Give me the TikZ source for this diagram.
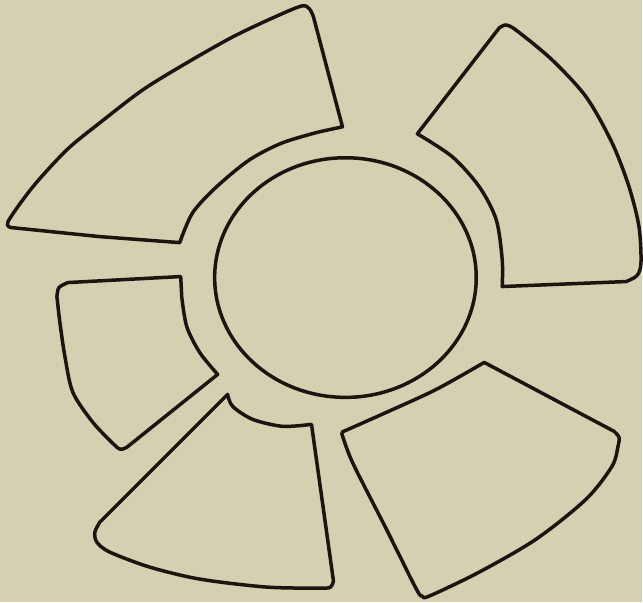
\documentclass[tikz,border=0pt]{standalone}
\definecolor{paper}{RGB}{213,208,178}
\definecolor{ink}{RGB}{28,20,14}
\begin{document}
\begin{tikzpicture}[x=1pt, y=-1pt,
  vane/.style={ink, line width=3.5pt, line join=round}]
  % Paper background fixes the page size.
  \fill[paper] (0,0) rectangle (643,603);
  % Central hub.
  \draw[vane] (346,278) ellipse (131pt and 120pt);
  % Upper left vane.
  \draw[vane] plot[smooth] coordinates {(12,228) (8,222) (33,187) (67,150) (100,123) (143,90) (187,63) (233,37) (273,18) (302,6) (310,9) (314,17)}
    -- (343,127)
    -- plot[smooth] coordinates {(320,132) (283,143) (250,160) (217,187) (193,213) (180,243)}
    -- (100,237) -- cycle;
  % Upper right vane.
  \draw[vane] plot[smooth] coordinates {(500,28) (507,25) (518,31) (553,60) (587,97) (613,143) (630,187) (640,227) (642,263) (638,276) (627,282)}
    -- plot[smooth] coordinates {(503,287) (503,260) (497,220) (480,187) (453,157) (418,134)}
    -- cycle;
  % Small left vane.
  \draw[vane] plot[smooth] coordinates {(57,297) (59,288) (68,283)}
    -- (181,277)
    -- plot[smooth] coordinates {(182,297) (187,327) (200,353) (218,375)}
    -- plot[smooth] coordinates {(127,448) (121,450) (115,446) (93,423) (73,393) (65,357) (60,323) (57,297)};
  % Lower left vane.
  \draw[vane] plot[smooth] coordinates {(228,395) (233,407) (253,420) (283,427) (312,425)}
    -- plot[smooth] coordinates {(334,582) (331,588) (322,589) (267,588) (200,580) (150,568) (110,553) (97,543) (95,533) (100,523)}
    -- cycle;
  % Lower right vane.
  \draw[vane] plot[smooth] coordinates {(342,433) (387,413) (437,390) (485,363)}
    -- plot[smooth] coordinates {(615,432) (620,438) (619,447) (613,467) (587,500) (537,540) (480,573) (430,597) (423,597) (417,590) (387,530) (353,463) (342,433)};
\end{tikzpicture}
\end{document}
